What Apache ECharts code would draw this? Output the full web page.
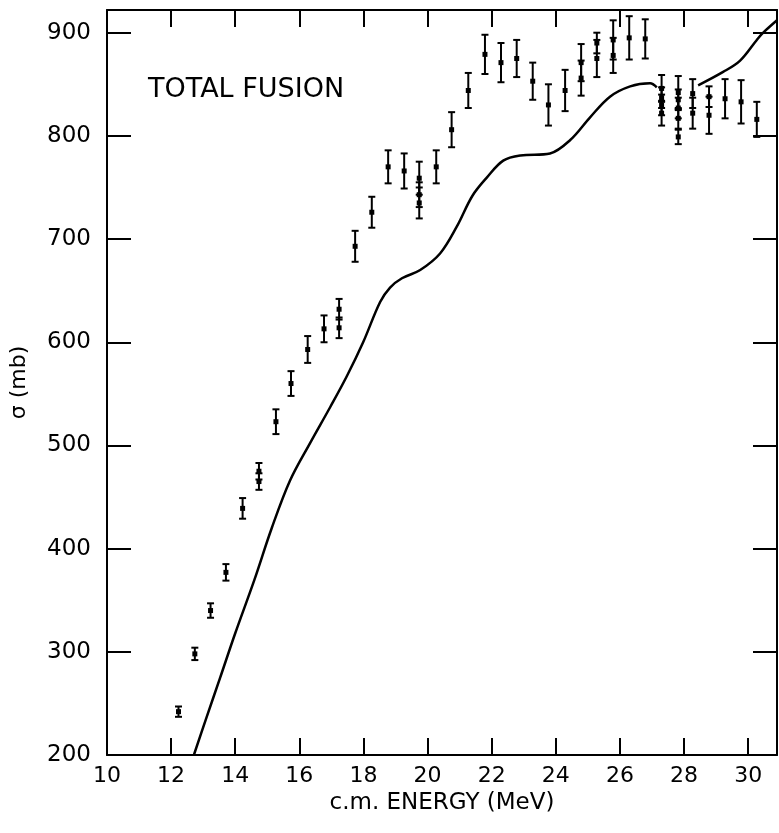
<!DOCTYPE html>
<html>
<head>
<meta charset="utf-8">
<script src="https://cdn.jsdelivr.net/npm/echarts@6/dist/echarts.min.js"></script>
<style>
html, body { margin: 0; padding: 0; background: #fff; }
#chart { width: 779px; height: 833px; }
</style>
</head>
<body>
<div id="chart"></div>
<script>
// measured points: c.m. energy (MeV), cross section (mb), error (mb)
const energy = [12.23, 12.74, 13.23, 13.71, 14.23, 14.74, 14.74, 15.27, 15.74, 16.26, 16.77,
  17.24, 17.24, 17.74, 18.26, 18.77, 19.27, 19.74, 19.74, 19.74, 20.27, 20.75, 21.27,
  21.79, 22.29, 22.78, 23.28, 23.77, 24.29, 24.79, 24.79, 25.28, 25.28, 25.79, 25.79,
  26.29, 26.79, 27.3, 27.3, 27.3, 27.3, 27.82, 27.82, 27.82, 27.82, 27.82,
  28.27, 28.27, 28.78, 28.78, 29.28, 29.78, 30.27]
const sigma = [242, 298, 340, 377, 439, 475, 465, 523, 560, 593, 613,
  632, 614, 693, 726, 770, 766, 759, 743, 735, 770, 806, 844,
  879, 871, 875, 853, 830, 844, 871, 856, 890, 875, 893, 878,
  895, 894, 846, 837, 830, 822, 842, 835, 827, 817, 799,
  841, 822, 838, 820, 836, 833, 816]
const sigmaErr = [5, 6, 7, 8, 10, 8, 8, 12, 12, 13, 13,
  10, 10, 15, 15, 16, 17, 16, 12, 15, 16, 17, 17,
  19, 19, 18, 18, 20, 20, 18, 17, 10, 18, 19, 17,
  21, 19, 13, 10, 10, 12, 16, 10, 10, 10, 7,
  14, 15, 10, 18, 19, 21, 17]

// model curve, two pieces
const curveE1 = [12.71, 13.1, 13.53, 14.0, 14.6, 15.14, 15.71, 16.33, 16.96, 17.48, 17.99,
  18.52, 18.83, 19.2, 19.77, 20.39, 20.91, 21.4, 21.86, 22.36, 22.9, 23.82, 24.45,
  25.07, 25.69, 26.32, 26.94, 27.15]
const curveS1 = [200, 236, 275, 318, 370, 420, 466, 502, 537, 567, 600,
  639, 653, 662, 670, 686, 712, 742, 760, 776, 781, 783, 796,
  818, 838, 848, 851, 847]
const curveE2 = [28.44, 29.22, 29.75, 30.27, 30.47, 30.9]
const curveS2 = [849, 862, 873, 893, 900, 912]

const xTicks = [10, 12, 14, 16, 18, 20, 22, 24, 26, 28, 30]

const font = 'DejaVu Sans'
const chart = echarts.init(document.getElementById('chart'))

const points = energy.map((e, i) => [e, sigma[i], sigmaErr[i]])
const curve1 = curveE1.map((e, i) => [e, curveS1[i]])
const curve2 = curveE2.map((e, i) => [e, curveS2[i]])

const baseX = {
  type: 'value', min: 10, max: 30.9, interval: 2,
  axisLine: { show: true, onZero: false, lineStyle: { color: '#000', width: 2 } },
  axisTick: { show: true, inside: true, length: 17, lineStyle: { color: '#000', width: 2 } },
  splitLine: { show: false }
}
const baseY = {
  type: 'value', min: 200, max: 922, interval: 100,
  axisLine: { show: true, onZero: false, lineStyle: { color: '#000', width: 2 } },
  axisTick: { show: true, inside: true, length: 24, lineStyle: { color: '#000', width: 2 } },
  splitLine: { show: false }
}

chart.setOption({
  animation: false,
  backgroundColor: '#fff',
  grid: { left: 107, right: 2, top: 10, bottom: 78 },
  xAxis: [
    Object.assign({}, baseX, {
      position: 'bottom',
      name: 'c.m. ENERGY (MeV)', nameLocation: 'middle', nameGap: 37,
      nameTextStyle: { fontFamily: font, fontSize: 23, color: '#000' },
      axisLabel: {
        fontFamily: font, fontSize: 22, color: '#000', margin: 10, showMaxLabel: false,
        formatter: v => xTicks.indexOf(v) >= 0 ? String(v) : ''
      }
    }),
    Object.assign({}, baseX, { position: 'top', axisLabel: { show: false } })
  ],
  yAxis: [
    Object.assign({}, baseY, {
      position: 'left',
      name: 'σ (mb)', nameLocation: 'middle', nameGap: 77, nameRotate: 90,
      nameTextStyle: { fontFamily: font, fontSize: 22, color: '#000' },
      axisLabel: { fontFamily: font, fontSize: 23, color: '#000', margin: 16, showMaxLabel: false }
    }),
    Object.assign({}, baseY, { position: 'right', axisLabel: { show: false } })
  ],
  graphic: [{
    type: 'text', left: 148, top: 76,
    style: { text: 'TOTAL FUSION', font: '27px "DejaVu Sans"', fill: '#000' }
  }],
  series: [
    {
      type: 'line', data: curve1, smooth: 0.35, symbol: 'none',
      lineStyle: { color: '#000', width: 2.5 }
    },
    {
      type: 'line', data: curve2, smooth: 0.35, symbol: 'none',
      lineStyle: { color: '#000', width: 2.5 }
    },
    {
      // error bars with small square markers
      type: 'custom', data: points,
      renderItem: function (params, api) {
        const x = api.value(0), y = api.value(1), err = api.value(2)
        const top = api.coord([x, y + err])
        const bot = api.coord([x, y - err])
        const c = api.coord([x, y])
        const w = 3.5
        return {
          type: 'group',
          children: [
            { type: 'line', shape: { x1: top[0], y1: top[1], x2: bot[0], y2: bot[1] }, style: { stroke: '#000', lineWidth: 2 } },
            { type: 'line', shape: { x1: top[0] - w, y1: top[1], x2: top[0] + w, y2: top[1] }, style: { stroke: '#000', lineWidth: 2 } },
            { type: 'line', shape: { x1: bot[0] - w, y1: bot[1], x2: bot[0] + w, y2: bot[1] }, style: { stroke: '#000', lineWidth: 2 } },
            { type: 'rect', shape: { x: c[0] - 2.5, y: c[1] - 2.5, width: 5, height: 5 }, style: { fill: '#000' } }
          ]
        }
      }
    }
  ]
})
</script>
</body>
</html>
